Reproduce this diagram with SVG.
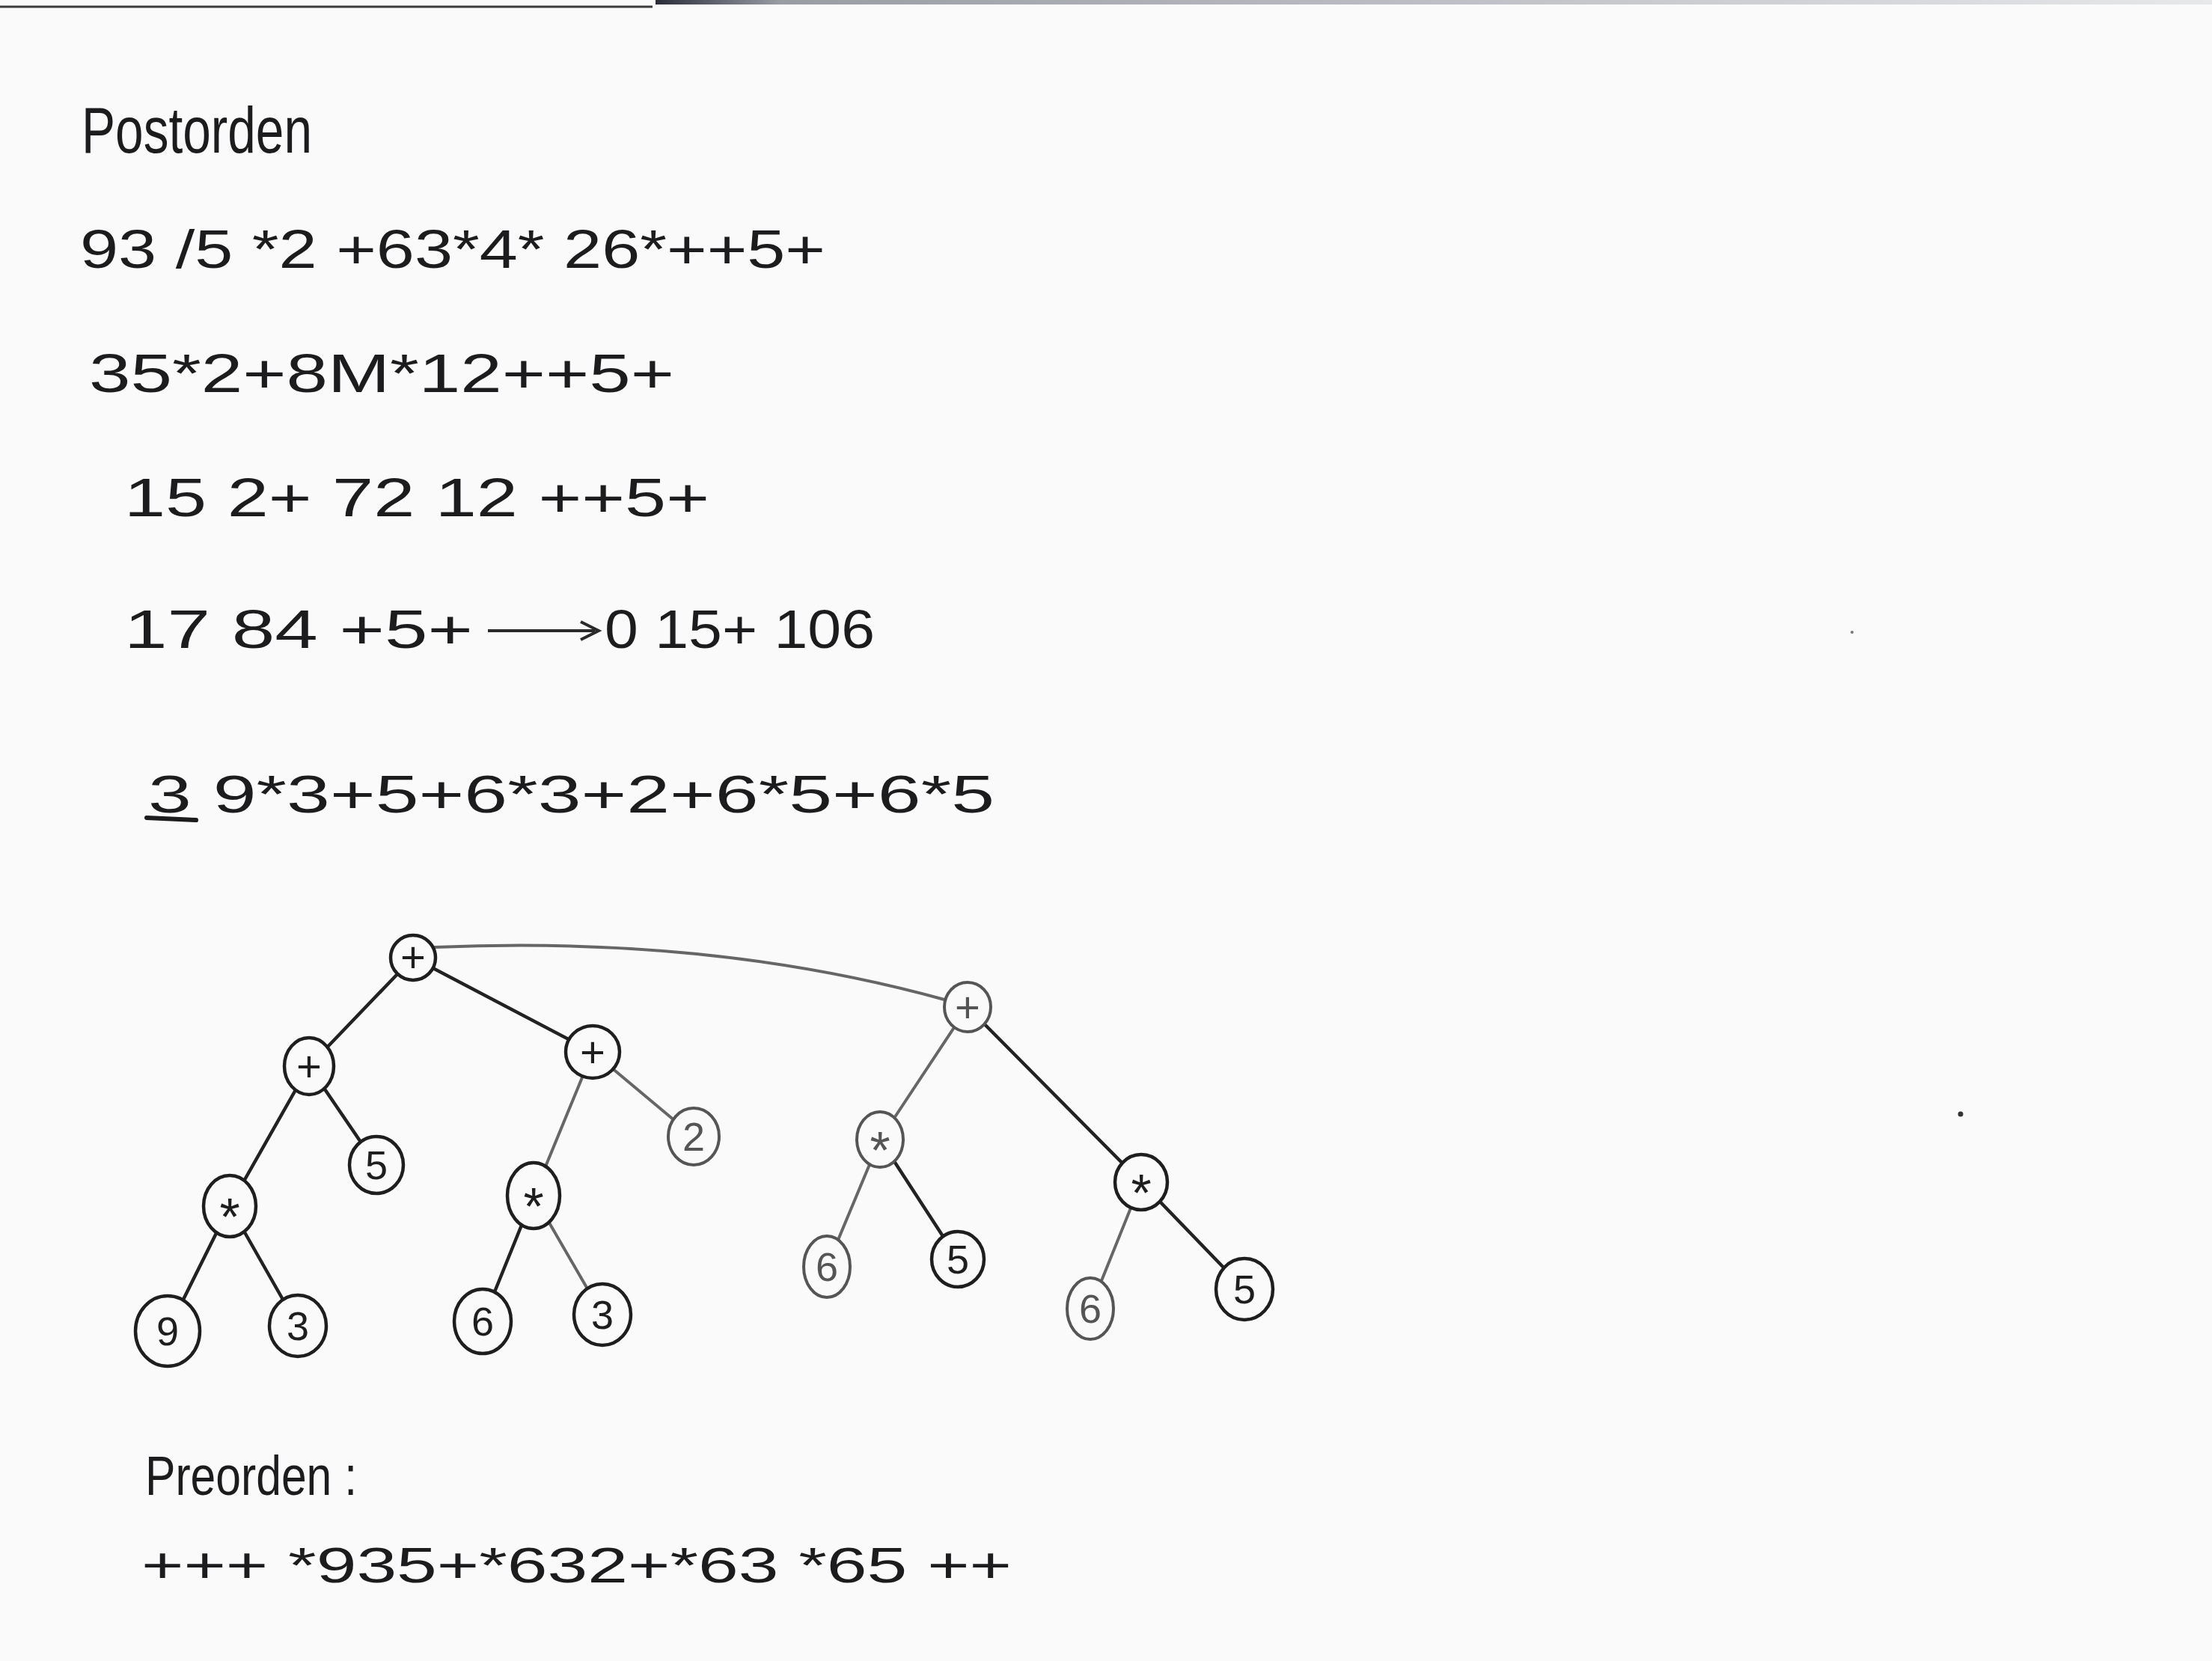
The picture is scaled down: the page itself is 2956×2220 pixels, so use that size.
<svg xmlns="http://www.w3.org/2000/svg" width="2956" height="2220" viewBox="0 0 2956 2220">
  <defs>
    <linearGradient id="topband" x1="0" y1="0" x2="1" y2="0">
      <stop offset="0" stop-color="#2a2c3a"/>
      <stop offset="0.08" stop-color="#9a9ca4"/>
      <stop offset="1" stop-color="#e6e8ea"/>
    </linearGradient>
  </defs>
  <style>
    .txt { font-family: "Liberation Sans", Arial, sans-serif; fill: #1c1c1e; }
    .node ellipse { fill: #fafafa; stroke: #1e1e1e; stroke-width: 4.5; }
    .node.light ellipse { stroke: #555; stroke-width: 4; }
    .node text { font-family: "Liberation Sans", Arial, sans-serif; fill: #1e1e1e; text-anchor: middle; font-size: 54px; }
    .node text.op { font-size: 58px; }
    .node text.star { font-size: 70px; }
    .node.light text { fill: #555; }
    .edge { fill: none; stroke: #222; stroke-width: 4.5; stroke-linecap: round; }
    .edge.light { stroke: #666; stroke-width: 4; }
  </style>
  <rect width="2956" height="2220" fill="#fafafa"/>
  <!-- scan edge artifacts -->
  <rect x="876" y="0" width="2080" height="6" fill="url(#topband)"/>
  <line x1="0" y1="9" x2="872" y2="9" stroke="#3a3a3a" stroke-width="3"/>
  <circle cx="2620" cy="1489" r="3.5" fill="#333"/>
  <circle cx="2475" cy="845" r="2" fill="#777"/>

  <!-- text lines -->
  <text class="txt" x="109" y="204" font-size="88" textLength="308" lengthAdjust="spacingAndGlyphs">Postorden</text>
  <text class="txt" x="107" y="358" font-size="72" textLength="996" lengthAdjust="spacingAndGlyphs">93 /5 *2 +63*4* 26*++5+</text>
  <text class="txt" x="119" y="524" font-size="72" textLength="782" lengthAdjust="spacingAndGlyphs">35*2+8M*12++5+</text>
  <text class="txt" x="166" y="690" font-size="72" textLength="782" lengthAdjust="spacingAndGlyphs">15 2+ 72 12 ++5+</text>
  <text class="txt" x="166" y="866" font-size="72" textLength="466" lengthAdjust="spacingAndGlyphs">17 84 +5+</text>
  <g id="arrow">
    <line x1="652" y1="843" x2="795" y2="843" stroke="#2a2a2a" stroke-width="4"/>
    <polyline points="776,831 800,843 776,855" fill="none" stroke="#2a2a2a" stroke-width="4"/>
  </g>
  <text class="txt" x="808" y="866" font-size="72" textLength="361" lengthAdjust="spacingAndGlyphs">0 15+ 106</text>
  <text class="txt" x="198" y="1086" font-size="70" textLength="1131" lengthAdjust="spacingAndGlyphs">3 9*3+5+6*3+2+6*5+6*5</text>
  <line x1="196" y1="1093" x2="262" y2="1096" stroke="#1c1c1e" stroke-width="6" stroke-linecap="round"/>
  <text class="txt" x="194" y="1998" font-size="74" textLength="283" lengthAdjust="spacingAndGlyphs">Preorden :</text>
  <text class="txt" x="189" y="2115" font-size="66" textLength="1163" lengthAdjust="spacingAndGlyphs">+++ *935+*632+*63 *65 ++</text>

  <!-- connectors -->
  <g id="connectors">
    <path class="edge light" d="M581,1266 Q950,1250 1262,1336"/>
    <line class="edge" x1="552" y1="1280" x2="413" y2="1425"/>
    <line class="edge" x1="552" y1="1280" x2="792" y2="1406"/>
    <line class="edge" x1="413" y1="1425" x2="307" y2="1612"/>
    <line class="edge" x1="413" y1="1425" x2="503" y2="1557"/>
    <line class="edge" x1="307" y1="1612" x2="224" y2="1779"/>
    <line class="edge" x1="307" y1="1612" x2="398" y2="1772"/>
    <line class="edge light" x1="792" y1="1406" x2="713" y2="1598"/>
    <line class="edge light" x1="792" y1="1406" x2="927" y2="1519"/>
    <line class="edge" x1="713" y1="1598" x2="645" y2="1766"/>
    <line class="edge light" x1="713" y1="1598" x2="805" y2="1757"/>
    <line class="edge light" x1="1293" y1="1346" x2="1176" y2="1523"/>
    <line class="edge" x1="1293" y1="1346" x2="1525" y2="1580"/>
    <line class="edge light" x1="1176" y1="1523" x2="1105" y2="1693"/>
    <line class="edge" x1="1176" y1="1523" x2="1280" y2="1683"/>
    <line class="edge light" x1="1525" y1="1580" x2="1457" y2="1749"/>
    <line class="edge" x1="1525" y1="1580" x2="1663" y2="1723"/>
  </g>

  <!-- nodes -->
  <g id="n-root" class="node"><ellipse cx="552" cy="1280" rx="30" ry="30"/><text class="op" x="552" y="1299">+</text></g>
  <g id="n-lplus" class="node"><ellipse cx="413" cy="1425" rx="33" ry="38"/><text class="op" x="413" y="1445">+</text></g>
  <g id="n-lmul" class="node"><ellipse cx="307" cy="1612" rx="35" ry="41"/><text class="star" x="307" y="1651">*</text></g>
  <g id="n-9" class="node"><ellipse cx="224" cy="1779" rx="43" ry="47"/><text x="224" y="1798">9</text></g>
  <g id="n-3a" class="node"><ellipse cx="398" cy="1772" rx="38" ry="41"/><text x="398" y="1791">3</text></g>
  <g id="n-5a" class="node"><ellipse cx="503" cy="1557" rx="36" ry="38"/><text x="503" y="1576">5</text></g>
  <g id="n-mplus" class="node"><ellipse cx="792" cy="1406" rx="36" ry="35"/><text class="op" x="792" y="1426">+</text></g>
  <g id="n-2" class="node light"><ellipse cx="927" cy="1519" rx="34" ry="38"/><text x="927" y="1538">2</text></g>
  <g id="n-mmul" class="node"><ellipse cx="713" cy="1598" rx="35" ry="44"/><text class="star" x="713" y="1637">*</text></g>
  <g id="n-6a" class="node"><ellipse cx="645" cy="1766" rx="38" ry="43"/><text x="645" y="1785">6</text></g>
  <g id="n-3b" class="node"><ellipse cx="805" cy="1757" rx="38" ry="41"/><text x="805" y="1776">3</text></g>
  <g id="n-rplus" class="node light"><ellipse cx="1293" cy="1346" rx="31" ry="33"/><text class="op" x="1293" y="1366">+</text></g>
  <g id="n-rmul1" class="node light"><ellipse cx="1176" cy="1523" rx="31" ry="37"/><text class="star" x="1176" y="1562">*</text></g>
  <g id="n-6b" class="node light"><ellipse cx="1105" cy="1693" rx="31" ry="41"/><text x="1105" y="1712">6</text></g>
  <g id="n-5b" class="node"><ellipse cx="1280" cy="1683" rx="35" ry="37"/><text x="1280" y="1702">5</text></g>
  <g id="n-rmul2" class="node"><ellipse cx="1525" cy="1580" rx="35" ry="37"/><text class="star" x="1525" y="1619">*</text></g>
  <g id="n-6c" class="node light"><ellipse cx="1457" cy="1749" rx="31" ry="41"/><text x="1457" y="1768">6</text></g>
  <g id="n-5c" class="node"><ellipse cx="1663" cy="1723" rx="38" ry="41"/><text x="1663" y="1742">5</text></g>
</svg>
